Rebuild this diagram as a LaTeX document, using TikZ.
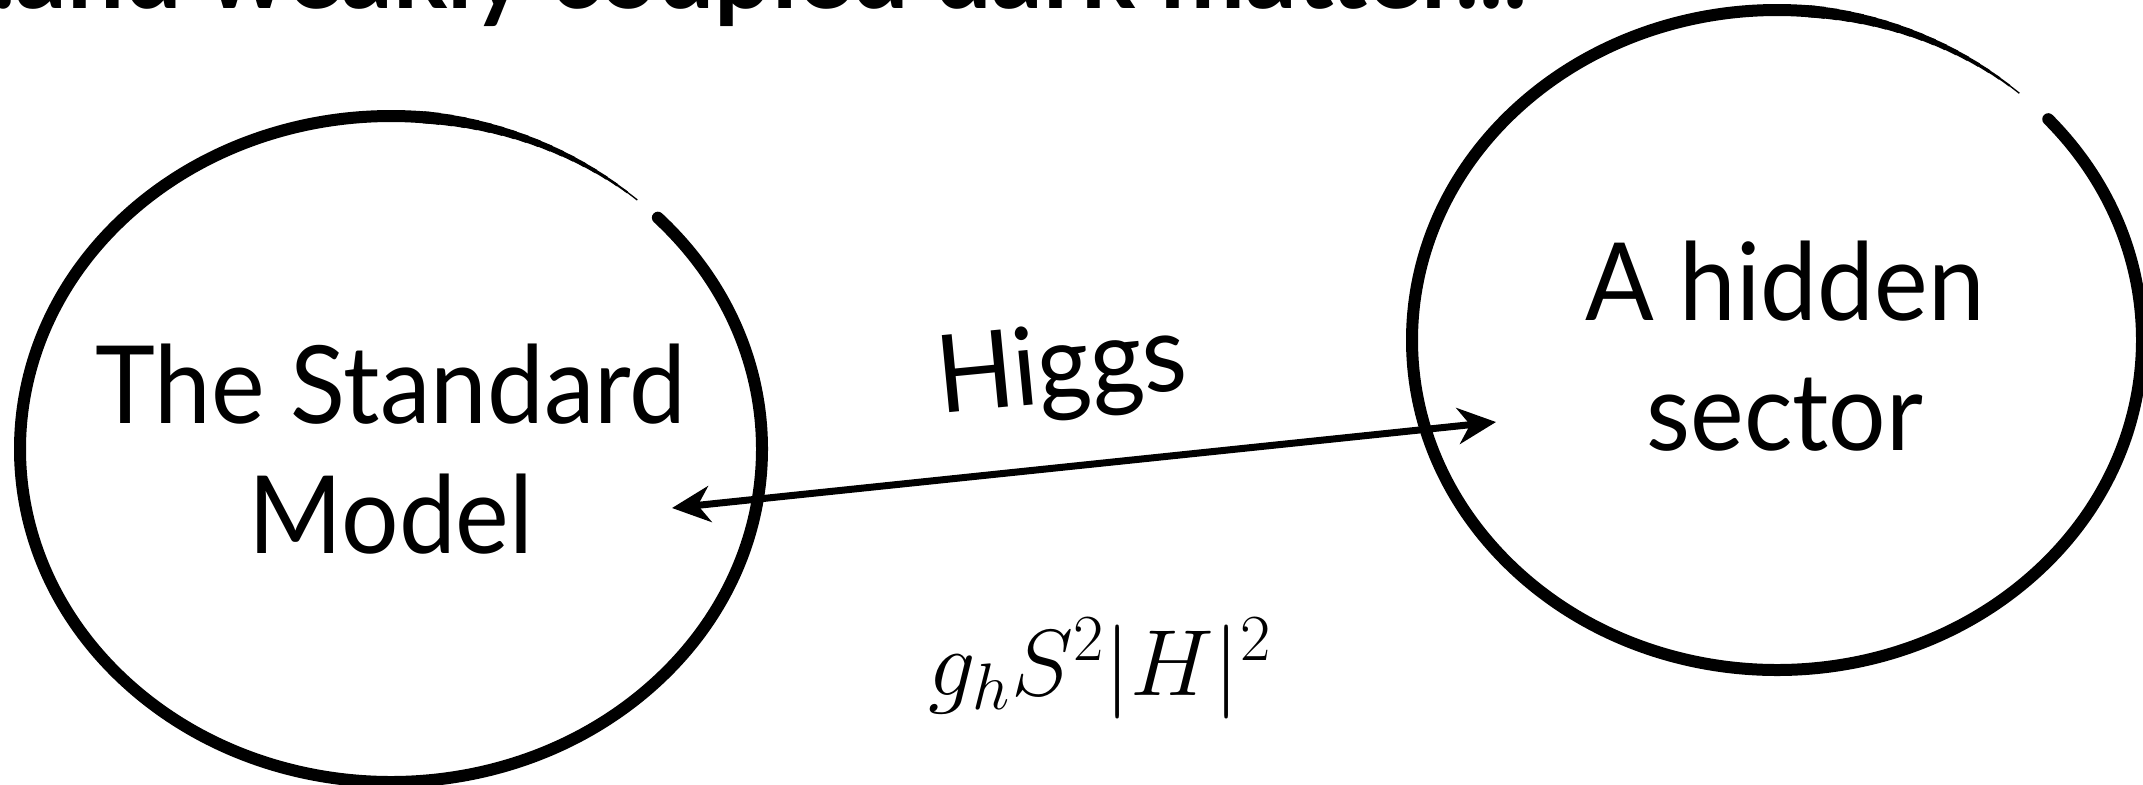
\RequirePackage{fix-cm}
\documentclass[tikz,border=0pt]{standalone}
\usepackage{fontspec}
\setmainfont[FakeStretch=0.94]{Lato}
\usetikzlibrary{arrows.meta}

\tikzset{
  ring/.style={line width=6pt,line cap=round},
  words/.style={font=\fontsize{54}{65}\selectfont,align=center,inner sep=0pt},
  link/.style={line width=3.5pt,{Stealth[length=19pt,width=18pt,inset=6pt]}-{Stealth[length=19pt,width=18pt,inset=6pt]}}
}

\begin{document}
\begin{tikzpicture}[x=0.5pt,y=-0.5pt]
  \useasboundingbox (0,0) rectangle (2143,784);
  \clip (0,0) rectangle (2143,784);
  % title line, cut by the top edge
  \node[words,font=\fontsize{54}{65}\selectfont\bfseries,anchor=base east] (title) at (1527,8) {...and weakly coupled dark matter...};
  % the two sectors, each stroke thinning out before its gap
  \draw[ring] (391,449) ++(-44:371 and 333) arc[start angle=-44,end angle=276,x radius=371,y radius=333];
  \foreach \a in {275,277,...,309}{
    \pgfmathsetmacro\w{0.3+5.7*(311.5-\a)/36.5}
    \draw[line width=\w pt] (391,449) ++(\a:371 and 333) arc[start angle=\a,delta angle=2.6,x radius=371,y radius=333];
  }
  \draw[ring] (1777,340) ++(-42:365 and 330) arc[start angle=-42,end angle=276,x radius=365,y radius=330];
  \foreach \a in {275,277,...,309}{
    \pgfmathsetmacro\w{0.3+5.7*(311.5-\a)/36.5}
    \draw[line width=\w pt] (1777,340) ++(\a:365 and 330) arc[start angle=\a,delta angle=2.6,x radius=365,y radius=330];
  }
  \node[words] (sm) at (391,449) {The Standard\\Model};
  \node[words] (hid) at (1785,346) {A hidden\\sector};
  % coupling
  \coordinate (smend) at (672,508);
  \coordinate (hidend) at (1496,422);
  \draw[link] (smend) -- (hidend);
  \node[words,rotate=5.5] (higgs) at (1062,372) {Higgs};
  \node[anchor=base,font=\fontsize{47}{56}\selectfont] (coupling) at (1100,695) {$g_hS^2|H|^2$};
\end{tikzpicture}
\end{document}
